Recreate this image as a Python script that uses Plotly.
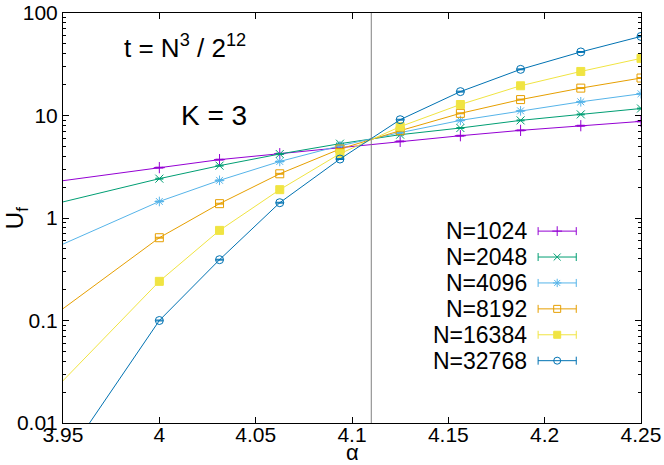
import plotly.graph_objects as go

# alpha values (x) and U_f for each system size
alpha = [3.9375, 4.0, 4.03125, 4.0625, 4.09375, 4.125, 4.15625, 4.1875, 4.21875, 4.25]

sizes = ["1024", "2048", "4096", "8192", "16384", "32768"]
u_1024 = [2.15, 3.10, 3.71, 4.24, 4.85, 5.59, 6.35, 7.16, 7.95, 8.76]
u_2048 = [1.26, 2.42, 3.24, 4.21, 5.31, 6.50, 7.55, 8.96, 10.25, 11.7]
u_4096 = [0.438, 1.45, 2.33, 3.56, 5.07, 6.80, 8.96, 11.1, 13.6, 16.3]
u_8192 = [0.0875, 0.642, 1.38, 2.70, 4.71, 7.11, 10.5, 14.3, 18.5, 23.2]
u_16384 = [0.0148, 0.241, 0.757, 1.89, 4.24, 7.78, 12.8, 19.5, 26.9, 36.1]
u_32768 = [0.00188, 0.100, 0.392, 1.41, 3.76, 9.10, 17.1, 28.2, 41.7, 59.1]
series = [u_1024, u_2048, u_4096, u_8192, u_16384, u_32768]

alpha_c = 4.11  # vertical marker line

x_ticks = [3.95, 4.0, 4.05, 4.1, 4.15, 4.2, 4.25]
x_ticklabels = ["3.95", "4", "4.05", "4.1", "4.15", "4.2", "4.25"]
y_ticks = [0.01, 0.1, 1, 10, 100]
y_ticklabels = ["0.01", "0.1", "1", "10", "100"]
y_minor = [m * d for d in (0.01, 0.1, 1, 10) for m in range(2, 10)]

# gnuplot default palette / point types
colors = ["#9400d3", "#009e73", "#56b4e9", "#e69f00", "#f0e442", "#0072b2"]
symbols = ["cross-thin-open", "x-thin-open", "asterisk-open", "square-open", "square", "circle-open"]

FONT = "Liberation Sans, Arial, sans-serif"

fig = go.Figure()

for n, u, c, s in zip(sizes, series, colors, symbols):
    fig.add_trace(go.Scatter(
        x=alpha, y=u, mode="lines+markers", name="N=" + n,
        line=dict(color=c, width=1),
        marker=dict(symbol=s, size=8, color=c, line=dict(color=c, width=1)),
        error_y=dict(type="percent", value=1, color=c, thickness=1, width=4),
        showlegend=False,
    ))

# hand-made gnuplot style key: text right aligned, sample to the right
key_top = 0.468
key_step = 0.0632
for i, (n, c, s) in enumerate(zip(sizes, colors, symbols)):
    ky = key_top - i * key_step
    fig.add_trace(go.Scatter(
        x=[0.855], y=[ky], mode="markers", xaxis="x2", yaxis="y2",
        marker=dict(symbol=s, size=7, color=c, line=dict(color=c, width=1)),
        error_x=dict(type="constant", value=0.033, color=c, thickness=1, width=4),
        showlegend=False, hoverinfo="skip",
    ))
    fig.add_annotation(
        x=0.806, y=ky, xref="x2", yref="y2", text="N=" + n, showarrow=False,
        xanchor="right", yanchor="middle", font=dict(size=23, color="black"),
    )

fig.add_shape(type="line", x0=alpha_c, x1=alpha_c, y0=0, y1=1,
              xref="x", yref="paper", line=dict(color="#808080", width=1))

fig.add_annotation(x=0.102, y=0.918, xref="paper", yref="paper",
                   text="t = N<sup>3</sup> / 2<sup>12</sup>", showarrow=False,
                   xanchor="left", yanchor="middle", font=dict(size=26, color="black"))
fig.add_annotation(x=0.200, y=0.75, xref="paper", yref="paper",
                   text="K = 3", showarrow=False,
                   xanchor="left", yanchor="middle", font=dict(size=28, color="black"))

# axis titles placed like gnuplot's
fig.add_annotation(x=0.5, y=-0.071, xref="paper", yref="paper", text="α",
                   showarrow=False, xanchor="center", yanchor="middle",
                   font=dict(size=22, color="black"))
fig.add_annotation(x=-0.081, y=0.5, xref="paper", yref="paper", text="U<sub>f</sub>",
                   showarrow=False, xanchor="center", yanchor="middle", textangle=-90,
                   font=dict(size=24, color="black"))

fig.update_layout(
    width=664, height=465,
    margin=dict(l=63, r=23, t=13, b=42),
    plot_bgcolor="white", paper_bgcolor="white",
    font=dict(family=FONT, size=21, color="black"),
    xaxis=dict(
        range=[3.95, 4.25], tickvals=x_ticks, ticktext=x_ticklabels, automargin=False,
        ticks="inside", ticklen=6, tickcolor="black", mirror="ticks", ticklabelstandoff=-7,
        showline=True, linecolor="black", linewidth=1, showgrid=False, zeroline=False,
    ),
    yaxis=dict(
        type="log", range=[-2, 2], tickvals=y_ticks, ticktext=y_ticklabels, automargin=False,
        ticks="inside", ticklen=6, tickcolor="black", mirror="ticks",
        showline=True, linecolor="black", linewidth=1, showgrid=False, zeroline=False,
        minor=dict(tickmode="array", tickvals=y_minor, ticks="inside", ticklen=3,
                   tickcolor="black", showgrid=False),
    ),
    xaxis2=dict(overlaying="x", range=[0, 1], visible=False),
    yaxis2=dict(overlaying="y", range=[0, 1], visible=False),
)

# drop the default page margin so the chart sits at the window's corner
fig.write_html("out.html", config={"displayModeBar": False},
               post_script="document.body.style.margin='0';")
